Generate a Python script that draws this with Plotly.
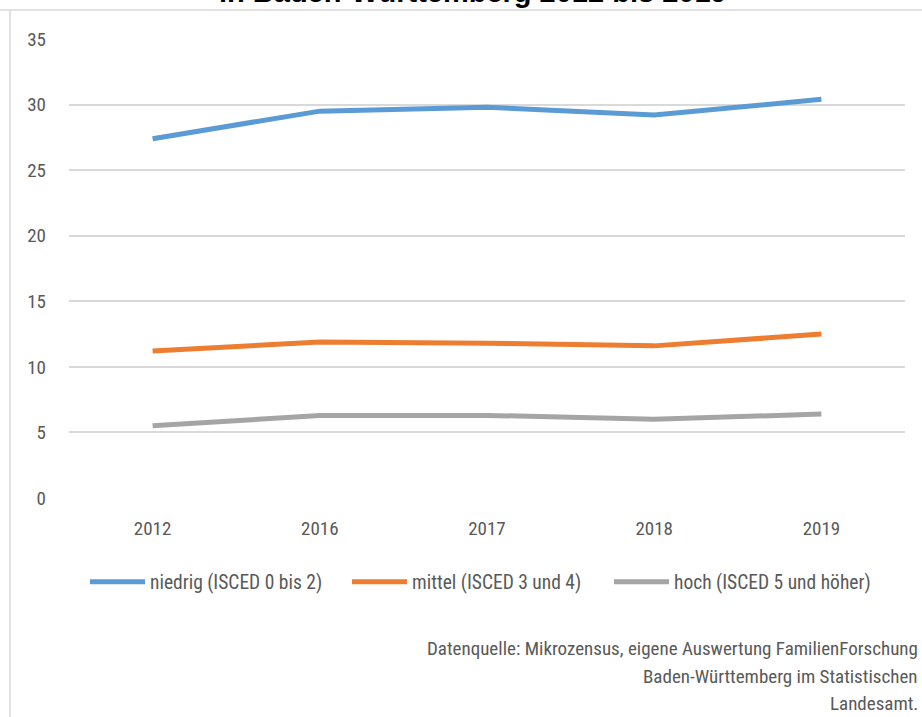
import plotly.graph_objects as go

years = ["2012", "2016", "2017", "2018", "2019"]
niedrig = [27.4, 29.5, 29.8, 29.2, 30.4]
mittel = [11.2, 11.9, 11.8, 11.6, 12.5]
hoch = [5.5, 6.3, 6.3, 6.0, 6.4]
series_names = ["niedrig (ISCED 0 bis 2)", "mittel (ISCED 3 und 4)", "hoch (ISCED 5 und höher)"]
y_ticks = [0, 5, 10, 15, 20, 25, 30, 35]

title_text = "in Baden-Württemberg 2012 bis 2019"
source_lines = ["Datenquelle: Mikrozensus, eigene Auswertung FamilienForschung",
                "Baden-Württemberg im Statistischen",
                "Landesamt."]

FONT = "Roboto Condensed"
TXT = "#595959"

W, H = 922, 717
L, R, T, B = 69, 17, 39, 219
pw = W - L - R
ph = H - T - B

def px(x):
    return (x - L) / pw

def py(y):
    return (H - B - y) / ph

def f(size, color=TXT, family=FONT):
    return dict(family=family, size=size, color=color)

fig = go.Figure()
colors = ["#5B9BD5", "#ED7D31", "#A5A5A5"]
for name, vals, c in zip(series_names, [niedrig, mittel, hoch], colors):
    fig.add_trace(go.Scatter(x=years, y=vals, mode="lines", name=name,
                             line=dict(color=c, width=5)))

annotations = [
    dict(text="<b>" + title_text + "</b>", xref="paper", yref="paper",
         x=px(473), y=py(10), xanchor="center", yanchor="bottom", showarrow=False,
         font=dict(family="Liberation Sans, Arial, sans-serif", size=29, color="black")),
]
for i, line in enumerate(source_lines):
    annotations.append(dict(text=line, xref="paper", yref="paper", x=px(920),
                            y=py(649 + 27 * i), xanchor="right", yanchor="middle",
                            showarrow=False, font=f(19)))

fig.update_layout(
    width=W, height=H,
    margin=dict(l=L, r=R, t=T, b=B),
    paper_bgcolor="white", plot_bgcolor="white",
    font=f(18),
    showlegend=True,
    legend=dict(orientation="h", x=px(85), xanchor="left", y=py(582), yanchor="middle",
                font=f(19.5), itemwidth=55, entrywidth=192, tracegroupgap=0),
    xaxis=dict(type="category", range=[-0.5, 4.5], showgrid=False, showline=False,
               zeroline=False, ticks="", tickfont=f(19), ticklabelstandoff=17),
    yaxis=dict(range=[0, 35], tickvals=y_ticks, showgrid=True, gridcolor="#d9d9d9",
               gridwidth=1.5, zeroline=False, showline=False, ticks="",
               tickfont=f(19), ticklabelstandoff=22),
    shapes=[
        dict(type="line", xref="paper", yref="paper", x0=px(0), x1=px(W), y0=py(10), y1=py(10),
             line=dict(color="#d9d9d9", width=1.5)),
        dict(type="line", xref="paper", yref="paper", x0=px(10), x1=px(10), y0=py(10), y1=py(H),
             line=dict(color="#d9d9d9", width=1.5)),
    ],
    annotations=annotations,
)

fig.write_html("out.html", config={"displayModeBar": False},
               post_script="document.body.style.margin='0';document.body.style.overflow='hidden';")
